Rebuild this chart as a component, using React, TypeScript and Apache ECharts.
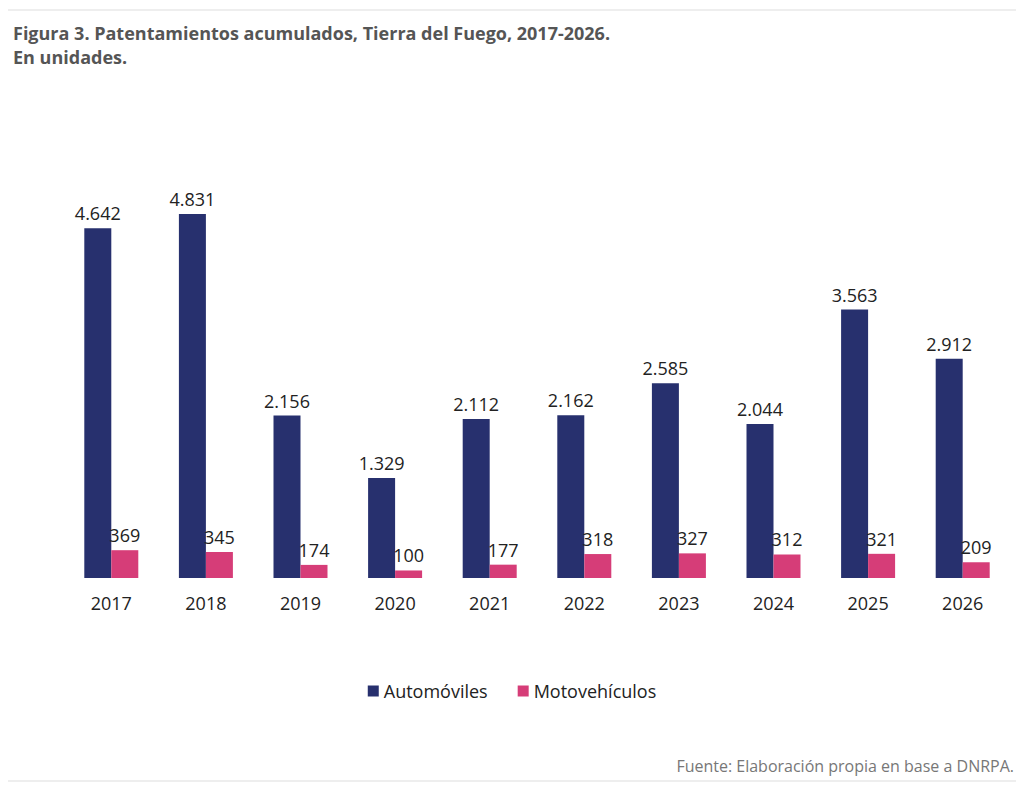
import React, { useEffect, useRef } from 'react';
import * as echarts from 'echarts';

const years = ['2017', '2018', '2019', '2020', '2021', '2022', '2023', '2024', '2025', '2026'];
const automoviles = [4642, 4831, 2156, 1329, 2112, 2162, 2585, 2044, 3563, 2912];
const motovehiculos = [369, 345, 174, 100, 177, 318, 327, 312, 321, 209];

const fmt = (v: number) => v.toLocaleString('de-DE');

const App: React.FC = () => {
  const chartRef = useRef<HTMLDivElement>(null);

  useEffect(() => {
    const chart = echarts.init(chartRef.current!, undefined, { renderer: 'svg' });
    const font = '"Open Sans", sans-serif';
    const label = {
      show: true,
      position: 'top' as const,
      distance: 6,
      color: '#222',
      fontSize: 18,
      fontFamily: font,
      formatter: (p: any) => fmt(p.value),
    };

    chart.setOption({
      animation: false,
      textStyle: { fontFamily: font },
      title: {
        text: 'Figura 3. Patentamientos acumulados, Tierra del Fuego, 2017-2026.\nEn unidades.',
        left: 0,
        top: 8,
        textStyle: { fontSize: 18, fontWeight: 'bold', color: '#555', lineHeight: 24, fontFamily: font },
      },
      legend: {
        bottom: 78,
        left: 'center',
        itemWidth: 11,
        itemHeight: 11,
        itemGap: 30,
        icon: 'rect',
        textStyle: { fontSize: 18, color: '#222', fontFamily: font },
      },
      grid: { left: 56, right: 6, top: 118, bottom: 205 },
      xAxis: {
        type: 'category',
        data: years,
        axisLine: { show: false },
        axisTick: { show: false },
        axisLabel: { fontSize: 18, color: '#222', margin: 16, fontFamily: font },
      },
      yAxis: { type: 'value', min: 0, max: 6000, show: false, splitLine: { show: false } },
      series: [
        { name: 'Automóviles', type: 'bar', data: automoviles, barWidth: 27, barGap: '0%', itemStyle: { color: '#27306e' }, label },
        { name: 'Motovehículos', type: 'bar', data: motovehiculos, barWidth: 27, itemStyle: { color: '#d63d78' }, label },
      ],
      graphic: [
        { type: 'line', shape: { x1: 0, y1: 2, x2: 1010, y2: 2 }, style: { stroke: '#ddd', lineWidth: 1 } },
        { type: 'line', shape: { x1: 0, y1: 773, x2: 1010, y2: 773 }, style: { stroke: '#ddd', lineWidth: 1 } },
        {
          type: 'text',
          right: 2,
          top: 750,
          style: { text: 'Fuente: Elaboración propia en base a DNRPA.', fontSize: 16, fill: '#777', fontFamily: font },
        },
      ],
    });

    return () => {
      chart.dispose();
    };
  }, []);

  return <div ref={chartRef} style={{ width: 1008, height: 775 }} />;
};

export default App;
